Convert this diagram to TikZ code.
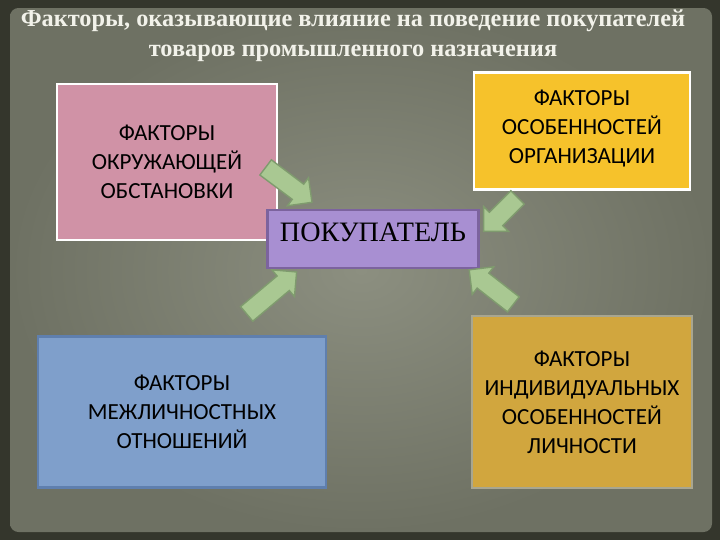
\documentclass[tikz,border=0pt]{standalone}
\usepackage{fontspec}
\setmainfont{Carlito}
\newfontfamily\titlefont{Liberation Serif}
\newfontfamily\buyerfont{Liberation Serif}
\usetikzlibrary{shapes.arrows, positioning}

\definecolor{bgdark}{HTML}{34362C}
\definecolor{bgin}{HTML}{8C8F80}
\definecolor{bgout}{HTML}{6E7163}
\definecolor{titlecol}{HTML}{F2F2EA}
\definecolor{pinkbox}{HTML}{D092A6}
\definecolor{yellowbox}{HTML}{F6C22B}
\definecolor{purplebox}{HTML}{A88FD2}
\definecolor{purpleline}{HTML}{7C639E}
\definecolor{bluebox}{HTML}{7F9FCB}
\definecolor{blueline}{HTML}{5F7FAE}
\definecolor{goldbox}{HTML}{D1A63E}
\definecolor{goldline}{HTML}{A8A690}
\definecolor{arrowfill}{HTML}{A9C892}
\definecolor{arrowline}{HTML}{7F9B6E}

\begin{document}
\begin{tikzpicture}[x=0.025cm, y=-0.025cm]

% Styles
\tikzstyle{factor} = [rectangle, align=center, text=black, line width=2pt, font=\fontsize{16.4}{20.6}\selectfont]
\tikzstyle{blockarrow} = [single arrow, draw=arrowline, fill=arrowfill, line width=1pt, inner xsep=0pt, inner ysep=0.22cm, single arrow head extend=0.2cm, single arrow head indent=0pt]

% --- Background ---
\useasboundingbox (0,0) rectangle (720,540);
\fill[bgdark] (0,0) rectangle (720,540);
\shade[inner color=bgin, outer color=bgout, rounded corners=6pt] (10,8) rectangle (712,532);

% --- Title ---
\node (title) [text=titlecol, align=center, font=\titlefont\bfseries\fontsize{17.3}{21.5}\selectfont] at (353,36)
  {Факторы, оказывающие влияние на поведение покупателей\\товаров промышленного назначения};

% --- Nodes ---
\node (env) [factor, fill=pinkbox, draw=white, minimum width=5.5cm, minimum height=3.9cm] at (167,162)
  {ФАКТОРЫ\\ОКРУЖАЮЩЕЙ\\ОБСТАНОВКИ};
\node (org) [factor, fill=yellowbox, draw=white, minimum width=5.4cm, minimum height=2.925cm, text depth=0.2cm] at (582,131)
  {ФАКТОРЫ\\ОСОБЕННОСТЕЙ\\ОРГАНИЗАЦИИ};
\node (buyer) [rectangle, fill=purplebox, draw=purpleline, line width=2pt, minimum width=5.275cm, minimum height=1.45cm, text depth=0.35cm, font=\buyerfont\fontsize{20}{24}\selectfont] at (373,239)
  {ПОКУПАТЕЛЬ};
\node (inter) [factor, fill=bluebox, draw=blueline, line width=1.5pt, minimum width=7.2cm, minimum height=3.775cm] at (182,412)
  {ФАКТОРЫ\\МЕЖЛИЧНОСТНЫХ\\ОТНОШЕНИЙ};
\node (person) [factor, fill=goldbox, draw=goldline, line width=1.5pt, minimum width=5.5cm, minimum height=4.3cm] at (582,402)
  {ФАКТОРЫ\\ИНДИВИДУАЛЬНЫХ\\ОСОБЕННОСТЕЙ\\ЛИЧНОСТИ};

% --- Arrows ---
\node (arr_env) [blockarrow, minimum height=1.45cm, rotate=-37] at (285,182) {};
\node (arr_org) [blockarrow, minimum height=1.2cm, rotate=-135] at (504,211) {};
\node (arr_inter) [blockarrow, minimum height=1.63cm, rotate=40] at (268,296) {};
\node (arr_person) [blockarrow, minimum height=1.4cm, rotate=142] at (495,290) {};

\end{tikzpicture}
\end{document}
